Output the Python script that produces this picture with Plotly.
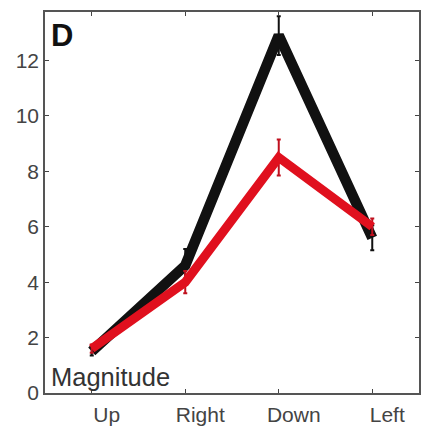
import plotly.graph_objects as go

directions = ["Up", "Right", "Down", "Left"]
x_pos = [1, 2, 3, 4]

black_vals = [1.5, 4.6, 12.9, 5.6]
black_err = [0.15, 0.6, 0.7, 0.45]

red_vals = [1.6, 4.0, 8.5, 6.0]
red_err = [0.15, 0.4, 0.65, 0.3]

y_ticks = [0, 2, 4, 6, 8, 10, 12]

fig = go.Figure()

fig.add_trace(go.Scatter(
    x=x_pos, y=black_vals, mode="lines",
    line=dict(color="#111111", width=10.5),
    error_y=dict(type="data", array=black_err, color="#111111", thickness=2, width=2),
    showlegend=False,
))
fig.add_trace(go.Scatter(
    x=x_pos, y=red_vals, mode="lines",
    line=dict(color="#e0101e", width=9),
    error_y=dict(type="data", array=red_err, color="#c0101e", thickness=2, width=2),
    showlegend=False,
))

axis_common = dict(
    showline=True, linecolor="#555555", linewidth=1.5, mirror="ticks",
    ticks="inside", ticklen=4, tickcolor="#444444", tickwidth=1,
    showgrid=False, zeroline=False,
    tickfont=dict(family="Liberation Sans, Arial", size=21, color="#444444"),
)

fig.update_xaxes(range=[0.5, 4.5], tickvals=x_pos, ticktext=directions,
                 ticklabelshift=15, ticklabelstandoff=2, **axis_common)
fig.update_yaxes(range=[0, 13.75], tickvals=y_ticks, ticklabelstandoff=0, **axis_common)

fig.add_annotation(
    x=0.01, y=0.99, xref="paper", yref="paper", xanchor="left", yanchor="top",
    text="<b>D</b>", showarrow=False,
    font=dict(family="Liberation Sans, Arial", size=31, color="#111111"),
)
fig.add_annotation(
    x=0.01, y=0.0, xref="paper", yref="paper", xanchor="left", yanchor="bottom",
    text="Magnitude", showarrow=False,
    font=dict(family="Liberation Sans, Arial", size=25.5, color="#333333"),
)

fig.update_layout(
    width=423, height=433,
    margin=dict(l=45, r=2, t=12, b=40),
    paper_bgcolor="white", plot_bgcolor="white",
)

fig.write_html("out.html")
